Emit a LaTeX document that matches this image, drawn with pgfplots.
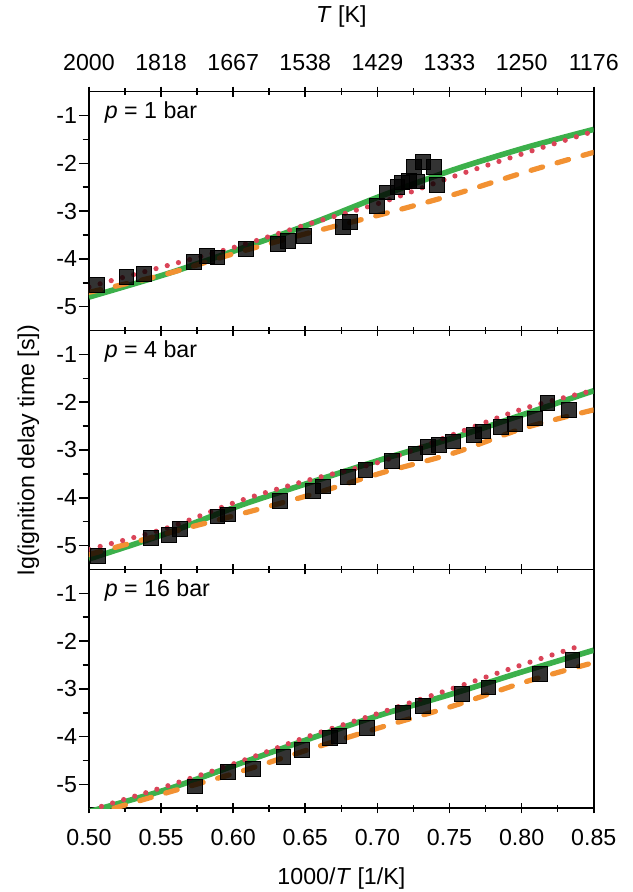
\documentclass[border=0pt]{standalone}
\usepackage{pgfplots}
\pgfplotsset{compat=1.18}
\usepackage{fontspec}
\setmainfont{Liberation Sans}

\definecolor{cgreen}{RGB}{60,176,75}
\definecolor{corange}{RGB}{242,145,50}
\definecolor{cred}{RGB}{218,68,88}
\newcommand{\fs}{\fontsize{11.6}{14}\selectfont}

\pgfplotsset{
  panel/.style={
    width=252.5pt, height=119.5pt, scale only axis,
    xmin=0.5, xmax=0.85, ymin=-5.5, ymax=-0.5,
    xtick={0.5,0.55,0.6,0.65,0.7,0.75,0.8,0.85},
    minor x tick num=1,
    ytick={-5,-4,-3,-2,-1}, yticklabels={-5,-4,-3,-2,-1},
    minor y tick num=1,
    ytick pos=left,
    tick align=center,
    major tick length=5pt, minor tick length=3.2pt,
    major y tick style={xshift=-2.5pt},
    minor y tick style={xshift=-1.6pt},
    tick style={black, line width=0.8pt},
    axis line style={line width=0.85pt},
    tick label style={font=\fs},
    label style={font=\fs},
  },
  sq/.style={only marks, mark=square*, mark size=3.7pt,
    mark options={fill=black, draw=none, fill opacity=0.8}},
  cgr/.style={cgreen, line width=2.8pt, no marks, smooth},
  cor/.style={corange, line width=2.6pt, no marks, smooth,
    line cap=round, dash pattern=on 6pt off 7.5pt},
  crd/.style={cred, line width=2.6pt, no marks, smooth,
    line cap=round, dash pattern=on 0pt off 5.8pt},
}

\begin{document}
\begin{tikzpicture}
% p = 1 bar
\begin{axis}[panel, at={(0,239pt)}, anchor=south west,
  xticklabel pos=right,
  xticklabel style={yshift=4.5pt},
  xticklabels={2000,1818,1667,1538,1429,1333,1250,1176},
  xlabel={\textit{T} [K]},
  x label style={at={(axis description cs:0.5,1.315)}, anchor=center}]
\addplot[sq] table {
0.5054 -4.54
0.5260 -4.37
0.5380 -4.31
0.5730 -4.07
0.5820 -3.93
0.5890 -3.97
0.6090 -3.79
0.6310 -3.68
0.6380 -3.62
0.6490 -3.52
0.6760 -3.33
0.6810 -3.22
0.6997 -2.89
0.7067 -2.61
0.7139 -2.50
0.7171 -2.40
0.7217 -2.36
0.7275 -2.38
0.7252 -2.08
0.7316 -1.97
0.7390 -2.07
0.7414 -2.45
};
\addplot[cgr] table {
0.5000 -4.80
0.5544 -4.31
0.6039 -3.80
0.6534 -3.27
0.7028 -2.68
0.7523 -2.14
0.8018 -1.68
0.8500 -1.29
};
\addplot[cor] table {
0.5000 -4.70
0.5544 -4.31
0.6039 -3.86
0.6534 -3.45
0.7028 -3.07
0.7523 -2.66
0.8018 -2.19
0.8500 -1.77
};
\addplot[crd] table {
0.5000 -4.59
0.5173 -4.44
0.5544 -4.14
0.6039 -3.73
0.6534 -3.26
0.7028 -2.82
0.7523 -2.28
0.8018 -1.79
0.8500 -1.33
};
\node[anchor=west, font=\fs] at (rel axis cs:0.0175,0.911) {\textit{p} = 1 bar};
\end{axis}

% p = 4 bar
\begin{axis}[panel, at={(0,119.5pt)}, anchor=south west,
  xticklabels={},
  ylabel={lg(ignition delay time [s])},
  y label style={at={(axis description cs:-0.12,0.5)}, anchor=center}]
\addplot[sq] table {
0.5062 -5.22
0.5428 -4.84
0.5557 -4.77
0.5631 -4.65
0.5890 -4.39
0.5965 -4.35
0.6323 -4.07
0.6553 -3.85
0.6620 -3.76
0.6793 -3.57
0.6917 -3.41
0.7102 -3.23
0.7263 -3.07
0.7350 -2.93
0.7424 -2.89
0.7523 -2.82
0.7671 -2.68
0.7733 -2.61
0.7857 -2.52
0.7956 -2.45
0.8092 -2.34
0.8178 -2.02
0.8327 -2.16
};
\addplot[cgr] table {
0.5000 -5.28
0.5544 -4.74
0.6039 -4.17
0.6534 -3.68
0.7028 -3.20
0.7523 -2.75
0.8018 -2.25
0.8500 -1.76
};
\addplot[cor] table {
0.5000 -5.19
0.5544 -4.74
0.6039 -4.35
0.6534 -3.94
0.7028 -3.48
0.7523 -3.07
0.8018 -2.54
0.8500 -2.16
};
\addplot[crd] table {
0.5000 -5.08
0.5544 -4.63
0.6039 -4.07
0.6534 -3.62
0.7028 -3.24
0.7523 -2.68
0.8018 -2.13
0.8463 -1.78
};
\node[anchor=west, font=\fs] at (rel axis cs:0.0175,0.911) {\textit{p} = 4 bar};
\end{axis}

% p = 16 bar
\begin{axis}[panel, at={(0,0)}, anchor=south west,
  xticklabel pos=left,
  xticklabel style={yshift=-4.5pt},
  xticklabels={0.50,0.55,0.60,0.65,0.70,0.75,0.80,0.85},
  xlabel={1000/\textit{T} [1/K]},
  x label style={at={(axis description cs:0.5,-0.295)}, anchor=center}]
\addplot[sq] table {
0.5737 -5.04
0.5965 -4.74
0.6138 -4.67
0.6348 -4.42
0.6479 -4.27
0.6670 -4.02
0.6731 -3.99
0.6929 -3.81
0.7177 -3.49
0.7313 -3.35
0.7585 -3.11
0.7770 -2.97
0.8129 -2.68
0.8352 -2.39
};
\addplot[cgr] table {
0.5000 -5.57
0.5544 -5.10
0.6039 -4.57
0.6534 -4.04
0.7028 -3.54
0.7523 -3.10
0.8018 -2.63
0.8500 -2.19
};
\addplot[cor] table {
0.5173 -5.50
0.5544 -5.17
0.6039 -4.74
0.6534 -4.26
0.7028 -3.80
0.7523 -3.36
0.8018 -2.86
0.8463 -2.48
};
\addplot[crd] table {
0.5087 -5.46
0.5544 -5.03
0.6039 -4.53
0.6534 -3.98
0.7028 -3.49
0.7523 -2.99
0.8018 -2.48
0.8426 -2.08
};
\node[anchor=west, font=\fs] at (rel axis cs:0.0175,0.911) {\textit{p} = 16 bar};
\end{axis}

\pgfresetboundingbox
\path[use as bounding box] (-44.5pt,-41.85pt) rectangle (272pt,404.35pt);
\end{tikzpicture}
\end{document}
